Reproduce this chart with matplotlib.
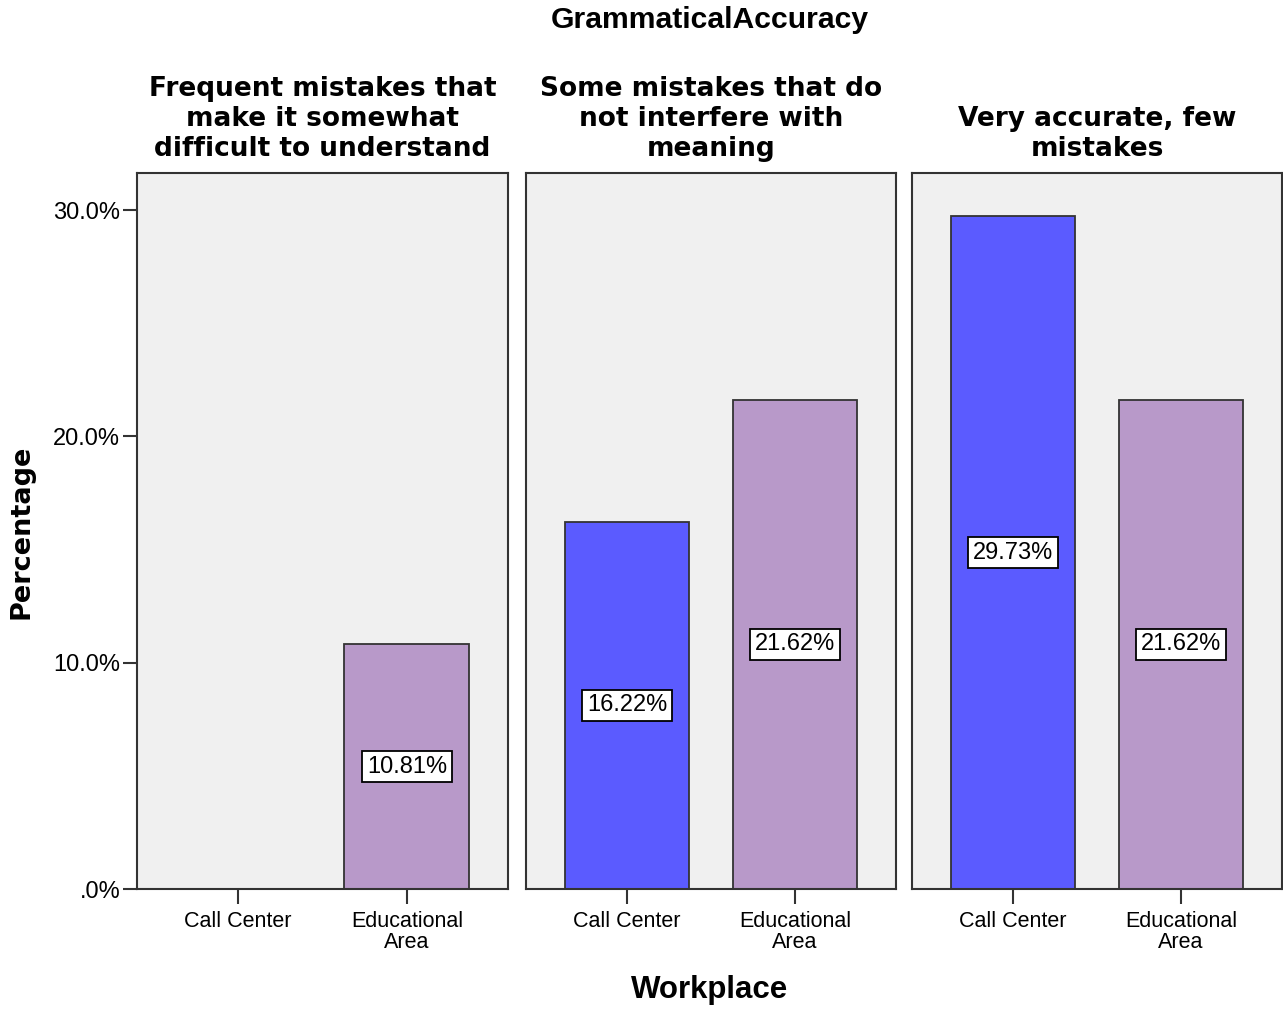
import matplotlib
matplotlib.use("Agg")
import matplotlib.pyplot as plt
from matplotlib.ticker import FuncFormatter

plt.rcParams['font.family'] = ['Liberation Sans', 'DejaVu Sans']

panel_titles = [
    "Frequent mistakes that\nmake it somewhat\ndifficult to understand",
    "Some mistakes that do\nnot interfere with\nmeaning",
    "Very accurate, few\nmistakes",
]
workplaces = ["Call Center", "Educational\nArea"]
call_center = [0.0, 16.22, 29.73]
educational = [10.81, 21.62, 21.62]
yticks = [0, 10, 20, 30]

bar_colors = ["#5b5bff", "#b899c9"]
W, H = 1283, 1009
fig = plt.figure(figsize=(W / 100, H / 100), dpi=100)

panels_px = [(137, 508), (526, 896), (912, 1282)]
top_px, bot_px = 173, 889

def pct_fmt(v, pos):
    return ".0%" if v == 0 else f"{v:.1f}%"

for i, (x0, x1) in enumerate(panels_px):
    ax = fig.add_axes([x0 / W, 1 - bot_px / H, (x1 - x0) / W, (bot_px - top_px) / H])
    ax.set_facecolor("#f0f0f0")
    vals = [call_center[i], educational[i]]
    for j, v in enumerate(vals):
        if v <= 0:
            continue
        ax.bar(j, v, width=0.74, color=bar_colors[j], edgecolor="#333333", linewidth=1.3, zorder=2)
        ax.text(j, v / 2, f"{v:.2f}%", ha="center", va="center", fontsize=17, zorder=3,
                bbox=dict(boxstyle="square,pad=0.2", facecolor="white", edgecolor="black", linewidth=1.3))
    ax.set_xlim(-0.6, 1.6)
    ax.set_ylim(0, 31.64)
    ax.set_xticks([0, 1])
    ax.set_xticklabels(workplaces, fontsize=15.5, linespacing=1.0)
    ax.set_yticks(yticks)
    if i == 0:
        ax.yaxis.set_major_formatter(FuncFormatter(pct_fmt))
        ax.tick_params(axis="y", labelsize=17, length=10, width=1.5, color="#333333", pad=2)
    else:
        ax.tick_params(axis="y", left=False, labelleft=False)
    ax.tick_params(axis="x", length=10.5, width=1.5, color="#333333", pad=5.5)
    for sp in ax.spines.values():
        sp.set_color("#333333")
        sp.set_linewidth(1.5)
    ax.set_title(panel_titles[i], fontsize=19, fontweight="bold", family="DejaVu Sans",
                 linespacing=1.2, pad=12.5)

fig.text(710 / W, 1 - 20 / H, "GrammaticalAccuracy", ha="center", va="center",
         fontsize=21.7, fontweight="bold")
fig.text(710 / W, 1 - 990 / H, "Workplace", ha="center", va="center",
         fontsize=22.5, fontweight="bold")
fig.text(22 / W, 1 - 532 / H, "Percentage", ha="center", va="center", rotation=90,
         fontsize=19.5, fontweight="bold", family="DejaVu Sans")

fig.savefig("out.png", dpi=100, facecolor="white")
